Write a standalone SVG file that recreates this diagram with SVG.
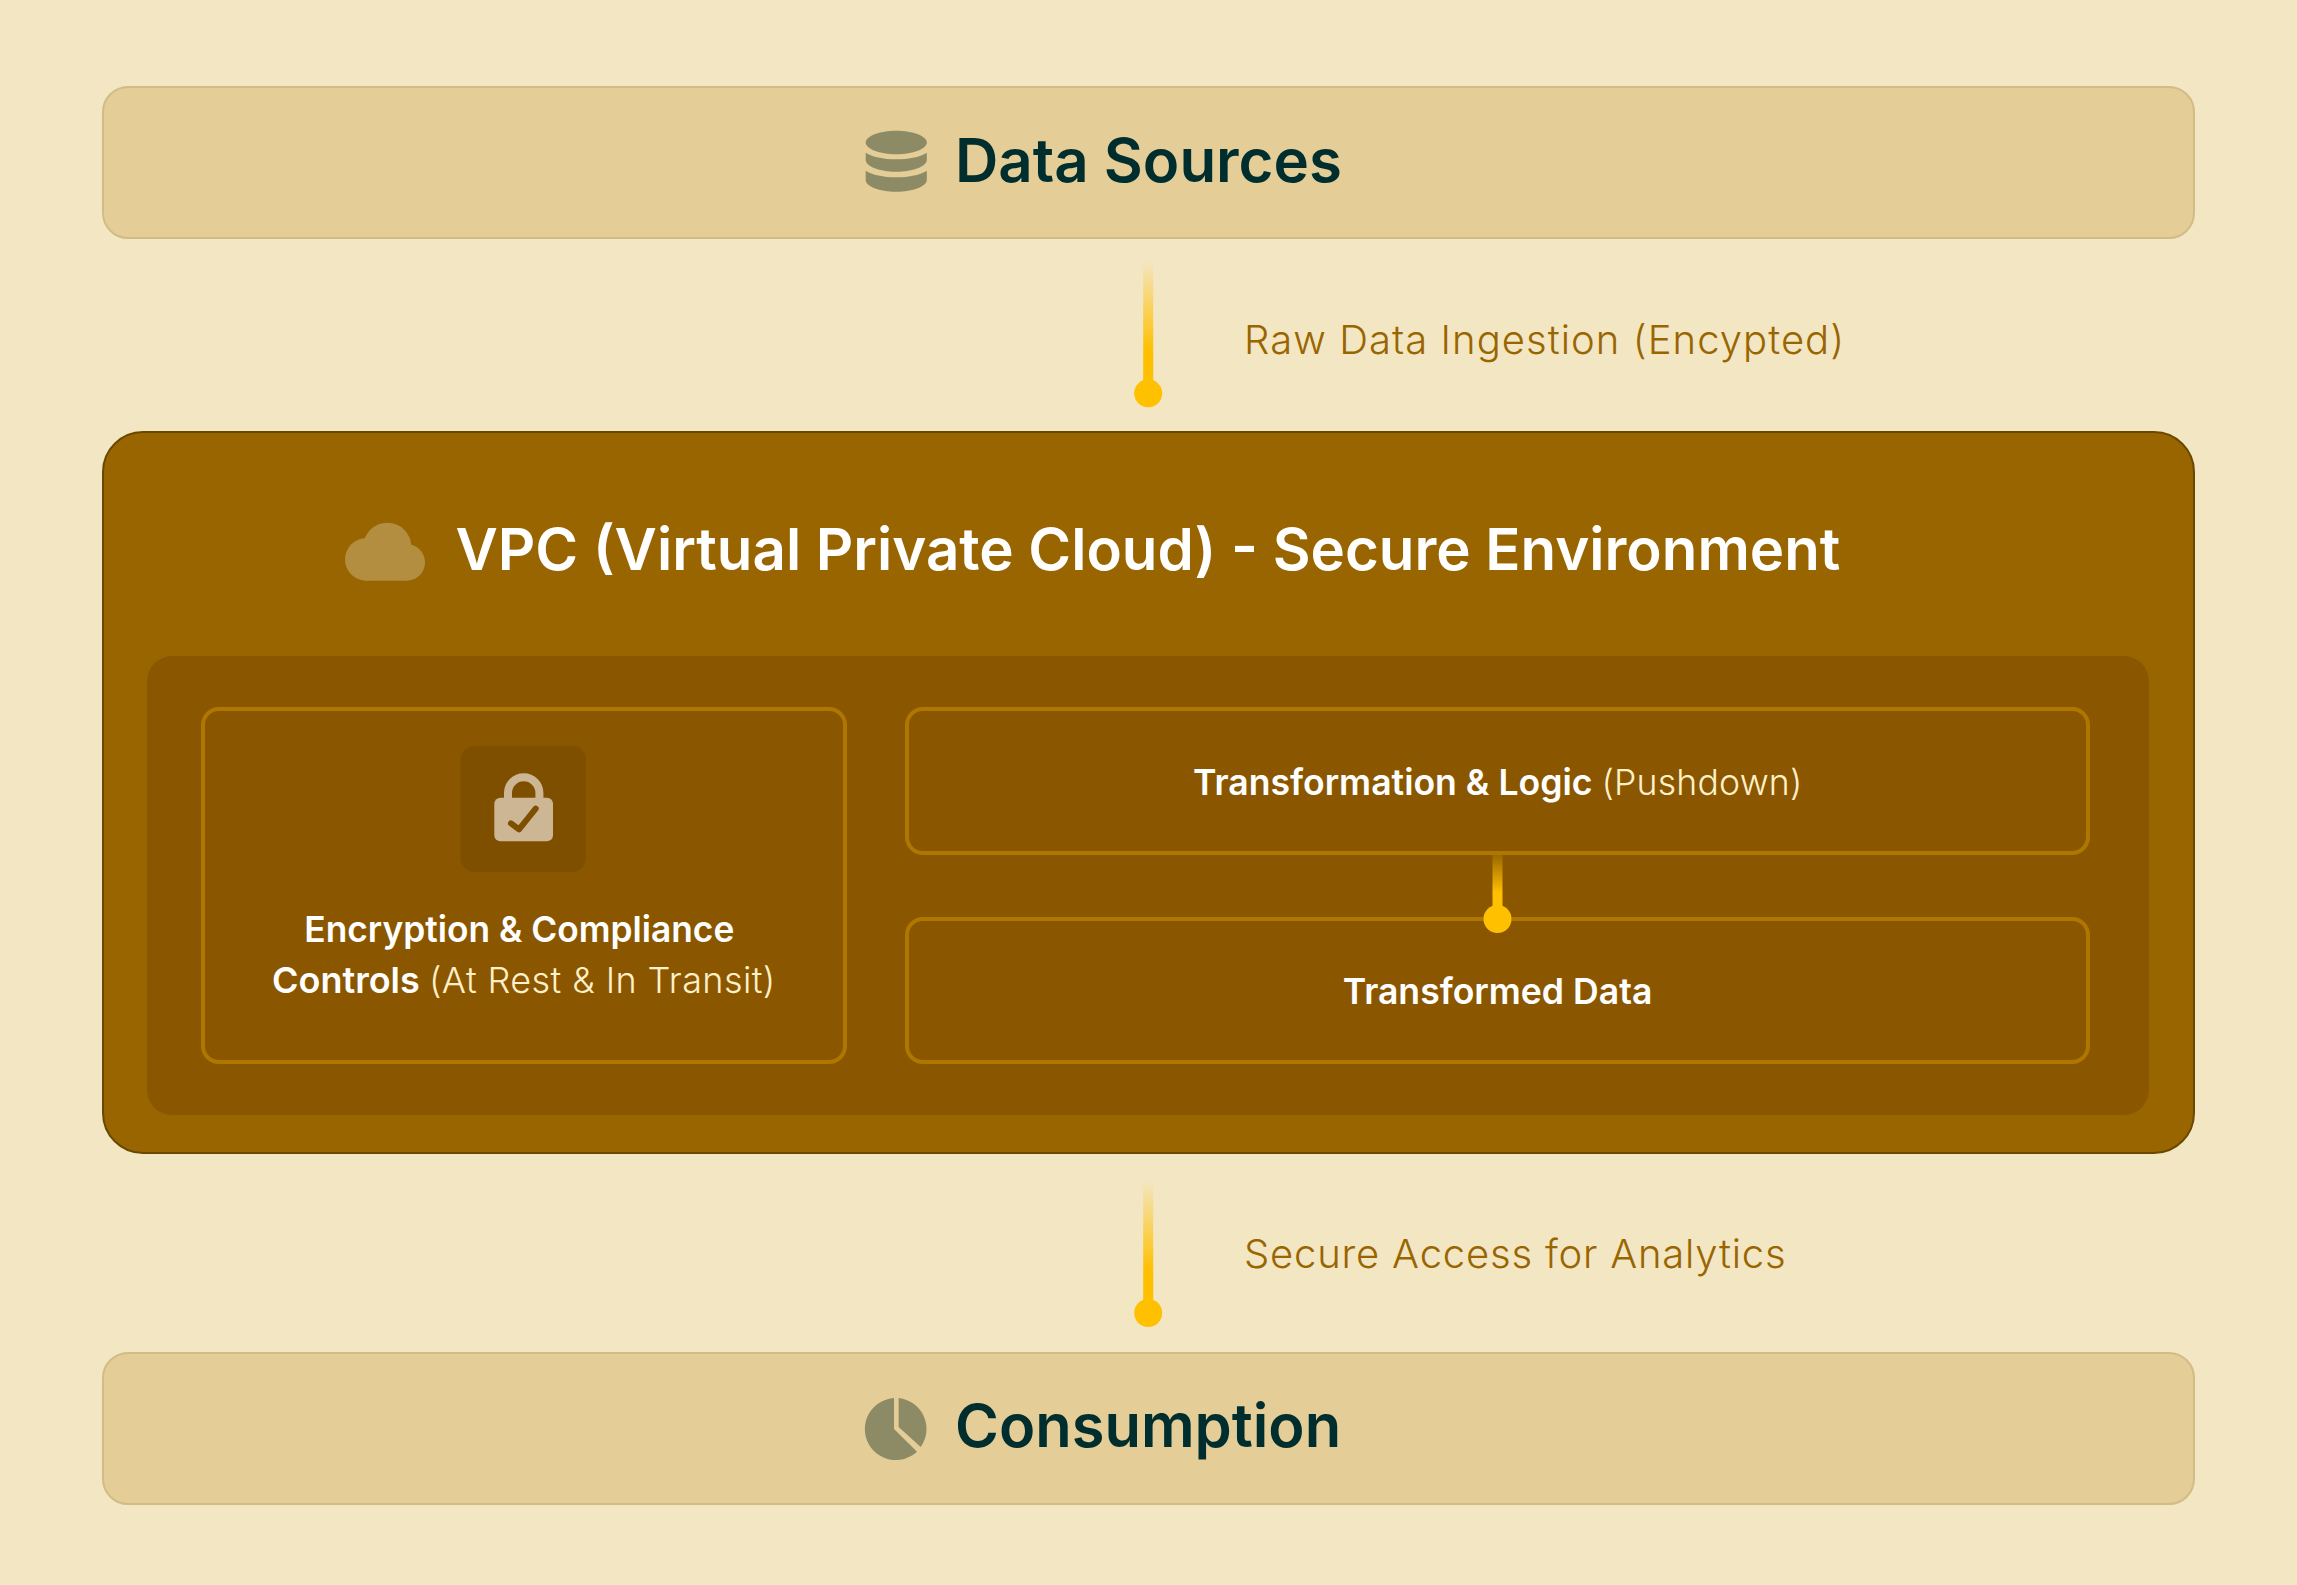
<svg xmlns="http://www.w3.org/2000/svg" width="2297" height="1585" viewBox="0 0 2297 1585">
<defs>
<linearGradient id="fade" x1="0" y1="0" x2="0" y2="1"><stop offset="0" stop-color="#ffc000" stop-opacity="0"/><stop offset="0.7" stop-color="#ffc000"/><stop offset="1" stop-color="#ffc000"/></linearGradient>
<linearGradient id="fade2" gradientUnits="userSpaceOnUse" x1="0" y1="848" x2="0" y2="912"><stop offset="0" stop-color="#ffc000" stop-opacity="0"/><stop offset="0.7" stop-color="#ffc000"/><stop offset="1" stop-color="#ffc000"/></linearGradient>
</defs>
<style>
text{font-family:Inter,"Liberation Sans",sans-serif}
.band{fill:#e4cd96;stroke:#d2bc86;stroke-width:2}
.card{fill:#8a5700;stroke:#b07700;stroke-width:4}
.h1{font-size:60px;font-weight:600;fill:#002d2d}
.h2{font-size:58.200px;font-weight:600;fill:#fff}
.lab{font-size:40px;font-weight:300;fill:#996500}
.t{font-size:35.600px;font-weight:600;fill:#fff}
.s{font-weight:300;fill:#fff0c8;letter-spacing:0.2px}
.ic{fill:#8c8b66}
.dot{fill:#ffc000}
.cl{fill:#b48e40}
</style>
<rect width="2297" height="1585" fill="#f3e6c3"/>
<g id="data-sources">
<rect class="band" x="103" y="87" width="2091" height="151" rx="25"/>
<path class="ic" d="M896.3 130.7C913 130.7 926.8 136 926.8 142.5C926.8 149 913 154.3 896.3 154.3C879.5 154.3 865.7 149 865.7 142.5C865.7 136 879.5 130.7 896.3 130.7Z"/>
<path class="ic" d="M865.7 152.7C872 156.800 883 159.300 896.300 159.300C909.500 159.300 920.500 156.800 926.800 152.700V160C926.800 166.400 913 171.700 896.300 171.700C879.500 171.700 865.700 166.400 865.700 160Z"/>
<path class="ic" d="M865.700 170.700C872 174.800 883 177.300 896.300 177.300C909.500 177.300 920.500 174.800 926.800 170.700V180C926.800 186.400 913 191.700 896.300 191.700C879.500 191.700 865.700 186.400 865.700 180Z"/>
<text class="h1" x="955" y="181.500">Data Sources</text>
</g>
<g id="vpc">
<rect x="103" y="432" width="2091" height="721" rx="40" fill="#996500" stroke="#6b4800" stroke-width="2"/>
<rect x="147" y="656" width="2002" height="459" rx="25" fill="#8a5700"/>
<g id="cloud-icon"><circle class="cl" cx="387.300" cy="546.700" r="24"/><circle class="cl" cx="366.300" cy="559.400" r="21.300"/><circle class="cl" cx="406.700" cy="562.400" r="18.300"/><rect class="cl" x="366.300" y="550" width="40.400" height="30.700"/></g>
<text class="h2" x="455.500" y="570">VPC (Virtual Private Cloud) - Secure Environment</text>
</g>
<g id="encryption">
<rect class="card" x="203" y="709" width="642" height="353" rx="16"/>
<rect x="460.500" y="746" width="125.500" height="126" rx="14" fill="#7f4f00"/>
<path d="M508 798V793A15.700 15.700 0 0 1 539.400 793V798" fill="none" stroke="#ccb694" stroke-width="8"/>
<rect x="494.300" y="797.700" width="58.700" height="43.600" rx="6" fill="#ccb694"/>
<path d="M511 823.300L519 829.300L535.700 808.700" fill="none" stroke="#7f4f00" stroke-width="6" stroke-linecap="round" stroke-linejoin="round"/>
<text class="t" x="519.300" y="941.700" text-anchor="middle" style="font-size:35.300px">Encryption &amp; Compliance</text>
<text class="t" x="272" y="992.700" style="font-size:36px">Controls <tspan class="s" style="letter-spacing:0.4px">(At Rest &amp; In Transit)</tspan></text>
</g>
<g id="transformation">
<rect class="card" x="907" y="709" width="1181" height="144" rx="16"/>
<text class="t" x="1193" y="795">Transformation &amp; Logic <tspan class="s">(Pushdown)</tspan></text>
</g>
<g id="transformed-data">
<rect class="card" x="907" y="919" width="1181" height="143" rx="16"/>
<text class="t" x="1497.500" y="1004" text-anchor="middle">Transformed Data</text>
</g>
<g id="consumption">
<rect class="band" x="103" y="1353" width="2091" height="151" rx="25"/>
<path class="ic" d="M894 1398.100V1429L917 1451.700A31 31 0 1 1 894 1398.100Z"/>
<path class="ic" d="M898.600 1398.100A31 31 0 0 1 920.700 1447L898.600 1427Z"/>
<text class="h1" x="955" y="1447" style="font-size:59.600px">Consumption</text>
</g>
<g id="connectors">
<rect x="1143.200" y="260" width="10" height="130" fill="url(#fade)"/>
<circle class="dot" cx="1148.200" cy="393.300" r="14"/>
<rect x="1143.200" y="1180" width="10" height="130" fill="url(#fade)"/>
<circle class="dot" cx="1148.200" cy="1313" r="14"/>
<rect x="1492.500" y="855" width="10" height="60" fill="url(#fade2)"/>
<circle class="dot" cx="1497.500" cy="919" r="14"/>
<text class="lab" x="1244" y="353.500" style="letter-spacing:1.05px">Raw Data Ingestion (Encypted)</text>
<text class="lab" x="1244" y="1267.500" style="letter-spacing:0.8px">Secure Access for Analytics</text>
</g>
</svg>
